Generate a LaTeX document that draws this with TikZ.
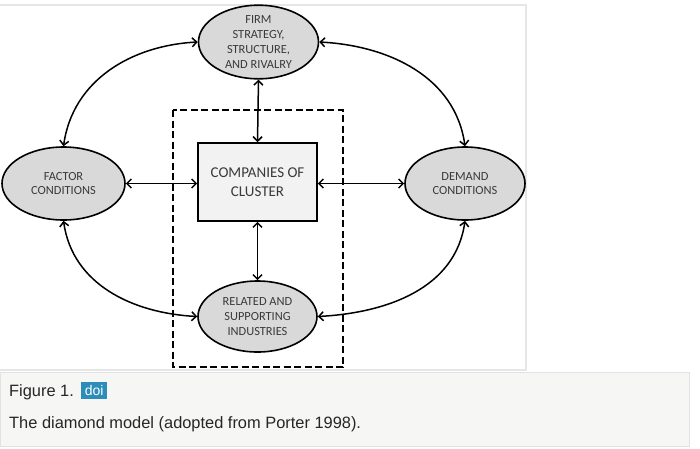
\documentclass[tikz,border=0pt]{standalone}
\usepackage{fontspec}
\setmainfont{Carlito}
\newfontfamily\capfont{Liberation Sans}
\usetikzlibrary{shapes.geometric,arrows.meta}
\definecolor{ellfill}{HTML}{D9D9D9}
\definecolor{boxfill}{HTML}{F2F2F2}
\definecolor{txtgray}{HTML}{3A3A3A}
\definecolor{framegray}{HTML}{E6E6E6}
\definecolor{capfill}{HTML}{F6F6F4}
\definecolor{capline}{HTML}{E2E2E2}
\definecolor{doiblue}{HTML}{2E8DB8}
\begin{document}
\begin{tikzpicture}[x=1pt,y=-1pt,
  ell/.style={ellipse,draw=black,line width=1.6pt,fill=ellfill,minimum width=120pt,minimum height=73pt,inner sep=0pt,align=center,text=txtgray,font=\fontsize{12.4}{14.7}\selectfont},
  cbox/.style={rectangle,draw=black,line width=1.6pt,fill=boxfill,minimum width=119pt,minimum height=78pt,inner sep=0pt,align=center,text=txtgray,font=\fontsize{15}{19}\selectfont},
  link/.style={line width=1.5pt,{Straight Barb[length=4.5pt,width=9pt]}-{Straight Barb[length=4.5pt,width=9pt]}},
  dashbox/.style={draw=black,line width=2.6pt,dash pattern=on 7pt off 3.5pt},
  capbox/.style={draw=capline,line width=1pt,fill=capfill},
  captext/.style={anchor=base west,inner sep=0pt,font=\capfont\fontsize{16.4}{19}\selectfont,text=black!85}]
\useasboundingbox (0,0) rectangle (700,448);
% frame
\draw[framegray,line width=1.5pt] (-2,5) -- (526,5) -- (526,370) -- (-2,370);
% dashed cluster box
\draw[dashbox] (173,110) rectangle (343,367);
% nodes
\node[ell] (firm) at (258.5,42) {FIRM\\STRATEGY,\\STRUCTURE,\\AND RIVALRY};
\node[ell,minimum width=123pt] (factor) at (63.5,183.5) {FACTOR\\CONDITIONS};
\node[ell] (demand) at (465,183.5) {DEMAND\\CONDITIONS};
\node[ell,minimum width=119pt,minimum height=71pt] (related) at (257.5,316.5) {RELATED AND\\SUPPORTING\\INDUSTRIES};
\node[cbox] (cluster) at (257.5,182) {COMPANIES OF\\CLUSTER};
% straight links
\draw[link] (firm.south) -- (cluster.north);
\draw[link] (cluster.south) -- (related.north);
\draw[link] (factor.east) -- (factor.east -| cluster.west);
\draw[link] (cluster.east |- demand.west) -- (demand.west);
% curved links
\draw[link] (factor.north) to[out=82,in=183] (firm.west);
\draw[link] (firm.east) to[out=-3,in=98] (demand.north);
\draw[link] (factor.south) to[out=-82,in=177] (related.west);
\draw[link] (related.east) to[out=3,in=-98] (demand.south);
% caption
\draw[capbox] (0,372) rectangle (689,446);
\node[captext] (fig) at (9,396) {Figure 1.};
\node[fill=doiblue,text=white,inner sep=0pt,minimum width=26pt,minimum height=17pt,font=\capfont\fontsize{14}{16}\selectfont,anchor=west] (doi) at (81,390) {doi};
\node[captext] (cap) at (9,428) {The diamond model (adopted from Porter 1998).};
\end{tikzpicture}
\end{document}
